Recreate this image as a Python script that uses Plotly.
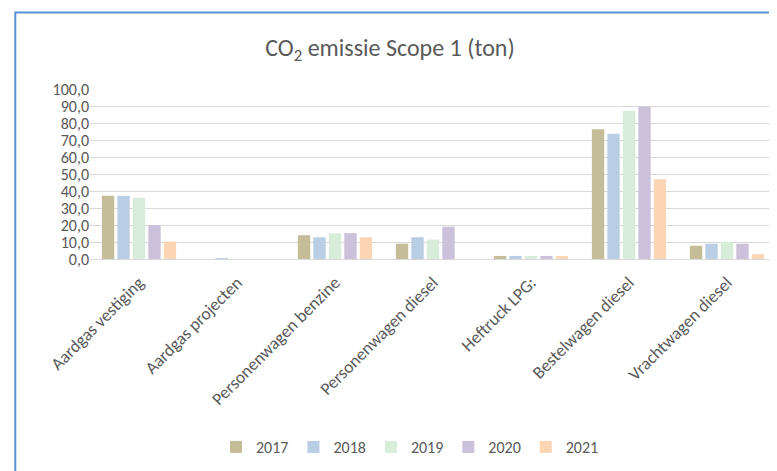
import plotly.graph_objects as go

categories = ["Aardgas vestiging", "Aardgas projecten", "Personenwagen benzine",
              "Personenwagen diesel", "Heftruck LPG:", "Bestelwagen diesel", "Vrachtwagen diesel"]
years = ["2017", "2018", "2019", "2020", "2021"]
v2017 = [37.2, 0.0, 14.0, 9.0, 1.8, 76.3, 7.8]
v2018 = [37.2, 0.5, 12.8, 12.8, 1.8, 73.7, 9.0]
v2019 = [36.0, 0.0, 15.1, 11.4, 1.8, 87.0, 10.2]
v2020 = [20.0, 0.0, 15.2, 19.0, 1.8, 89.6, 9.0]
v2021 = [10.3, 0.0, 12.8, 0.0, 1.8, 46.9, 2.9]
colors = ["#C4BD97", "#B9CDE5", "#D7EDDA", "#CCC1DA", "#FCD5B5"]
series = [v2017, v2018, v2019, v2020, v2021]

FONT = "Carlito, Lato, 'Open Sans', sans-serif"

# page body has an 8px margin: figure coords = page coords - 8
W, H = 769, 463
L, T, B = 82, 81, 251        # plot area left, top, bottom (figure px)
PW = 686                     # plot width
PH = B - T

fig = go.Figure()
for name, vals, col in zip(years, series, colors):
    fig.add_trace(go.Bar(x=categories, y=vals, name=name, marker_color=col,
                         marker_line_width=0))

fig.update_layout(
    width=W, height=H,
    margin=dict(l=L, r=W - L - PW, t=T, b=H - B, autoexpand=False),
    paper_bgcolor="white", plot_bgcolor="white",
    barmode="group", bargap=0.21, bargroupgap=0.2,
    separators=",.",
    font=dict(family=FONT, color="#595959", size=16),
    title=dict(text="CO<sub>2</sub> emissie Scope 1 (ton)", x=(390 - 8) / W, xanchor="center",
               y=1 - (48 - 8) / H, yanchor="middle", yref="container",
               font=dict(size=24, color="#595959", family=FONT)),
    showlegend=True,
    legend=dict(orientation="h", x=(410 - 8 - L) / PW, xanchor="center",
                y=(B - (447 - 8)) / PH, yanchor="middle",
                font=dict(size=16, color="#595959"), traceorder="normal",
                itemwidth=30),
    yaxis=dict(range=[0, 100], dtick=10, tickformat=".1f", showgrid=True,
               gridcolor="#D9D9D9", gridwidth=1.3, zeroline=True, zerolinecolor="#D9D9D9",
               zerolinewidth=1.3, showline=False, ticks="", automargin=False,
               tickfont=dict(size=16, color="#595959")),
    xaxis=dict(tickangle=-45, showline=False, ticks="", showgrid=False, automargin=False,
               ticklabelstandoff=9,
               tickfont=dict(size=17.5, color="#595959")),
)

fig.add_shape(type="rect", xref="paper", yref="paper",
              x0=(7.3 - L) / PW, x1=1.2, y0=-2.0, y1=(B - 4.5) / PH,
              line=dict(color="#5B8FD6", width=2), fillcolor="rgba(0,0,0,0)", layer="below")

fig.write_html("out.html")
